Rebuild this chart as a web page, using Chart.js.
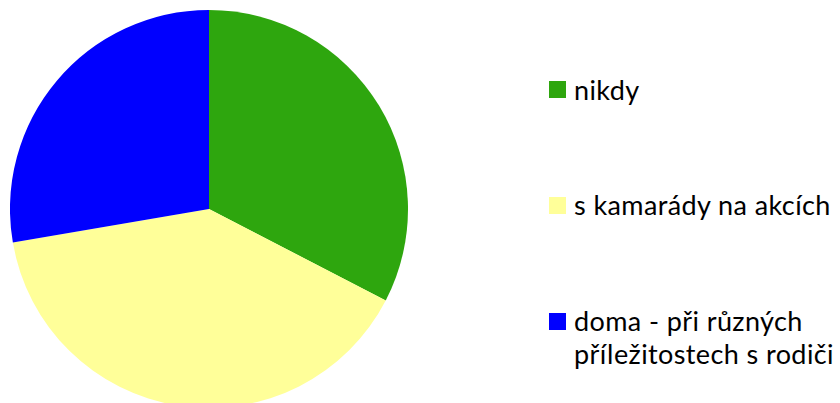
<!DOCTYPE html>
<html>
<head>
<meta charset="utf-8">
<script src="https://cdn.jsdelivr.net/npm/chart.js@4"></script>
<style>
  html, body { margin: 0; padding: 0; width: 840px; height: 403px; overflow: hidden; background: #fff; }
  #wrap { position: absolute; left: 10px; top: 10px; width: 398px; height: 398px; }
  #legend { position: absolute; left: 549px; top: 0; font-family: Lato, "Open Sans", sans-serif; font-size: 27px; letter-spacing: 0.4px; color: #000; }
  .item { position: absolute; left: 0; white-space: nowrap; }
  .sw { position: absolute; left: 0; width: 17px; height: 17px; }
  .tx { position: absolute; left: 25px; line-height: 33px; }
</style>
</head>
<body>
<div id="wrap"><canvas id="c"></canvas></div>
<div id="legend"></div>
<script>
const categories = ["nikdy", "s kamarády na akcích", ["doma - při různých", "příležitostech s rodiči"]];
const values = [32.6, 39.7, 27.7];
const colors = ["#2EA60E", "#FFFF99", "#0000FF"];

new Chart(document.getElementById('c'), {
  type: 'pie',
  data: {
    labels: categories.map(c => Array.isArray(c) ? c.join(' ') : c),
    datasets: [{ data: values, backgroundColor: colors, borderWidth: 0, hoverOffset: 0 }]
  },
  options: {
    responsive: true,
    maintainAspectRatio: false,
    animation: false,
    layout: { padding: 0 },
    plugins: { legend: { display: false }, tooltip: { enabled: false } }
  }
});

// HTML legend built from the arrays
const legend = document.getElementById('legend');
const rowCenters = [89.5, 205, 321];
categories.forEach((c, i) => {
  const lines = Array.isArray(c) ? c : [c];
  const item = document.createElement('div');
  item.className = 'item';
  const sw = document.createElement('div');
  sw.className = 'sw';
  sw.style.background = colors[i];
  sw.style.top = (rowCenters[i] - 8.5) + 'px';
  const tx = document.createElement('div');
  tx.className = 'tx';
  tx.innerHTML = lines.map(l => l.replace(/&/g,'&amp;').replace(/</g,'&lt;')).join('<br>');
  tx.style.top = (rowCenters[i] - 17) + 'px';
  item.appendChild(sw);
  item.appendChild(tx);
  legend.appendChild(item);
});
</script>
</body>
</html>
